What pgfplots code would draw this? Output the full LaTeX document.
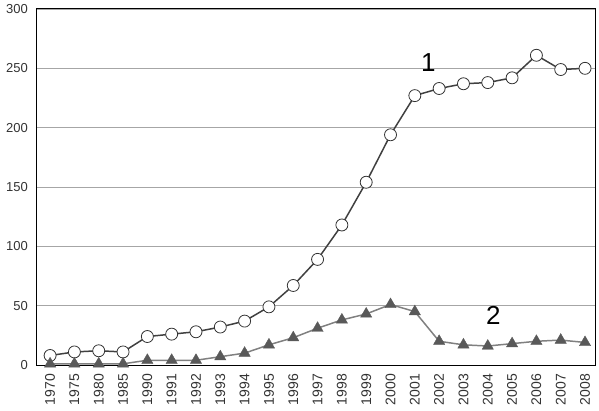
\documentclass[border=0pt]{standalone}
\usepackage{pgfplots}
\pgfplotsset{compat=1.18}
\usepackage{fontspec}
\setmainfont{Liberation Sans}
\begin{document}
\begin{tikzpicture}
\begin{axis}[
  name=main,
  scale only axis,
  width=559bp, height=356bp,
  xmin=-0.58, xmax=22.41,
  ymin=0, ymax=300,
  ytick={0,50,100,150,200,250,300},
  xtick={0,...,22},
  xticklabels={1970,1975,1980,1985,1990,1991,1992,1993,1994,1995,1996,1997,1998,1999,2000,2001,2002,2003,2004,2005,2006,2007,2008},
  xticklabel style={rotate=90, anchor=east, inner xsep=9bp, font=\fontsize{14bp}{16bp}\selectfont, text=black!80},
  yticklabel style={inner xsep=8bp, font=\fontsize{13bp}{15bp}\selectfont, text=black!80},
  /pgf/number format/assume math mode=true,
  major tick length=0pt,
  ymajorgrids,
  grid style={gray!70, line width=0.8pt},
  axis line style={black, line width=1pt},
  clip=false,
]
\addplot[black!75, line width=1.5pt, mark=*, mark size=6bp, mark options={fill=white, draw=black!80, line width=0.8pt}]
coordinates {
(0,8) (1,11) (2,12) (3,11) (4,24) (5,26) (6,28) (7,32) (8,37) (9,49) (10,67) (11,89) (12,118) (13,154) (14,194) (15,227) (16,233) (17,237) (18,238) (19,242) (20,261) (21,249) (22,250)
};
\addplot[gray, line width=1.5pt, mark=triangle*, mark size=6.5bp, mark options={fill=black!65, draw=black!65, line width=0.4pt}]
coordinates {
(0,1) (1,1) (2,1) (3,1) (4,4) (5,4) (6,4) (7,7) (8,10) (9,17) (10,23) (11,31) (12,38) (13,43) (14,51) (15,45) (16,20) (17,17) (18,16) (19,18) (20,20) (21,21) (22,19)
};
\node[font=\fontsize{26bp}{28bp}\selectfont] at (axis cs:15.56,255) {1};
\node[font=\fontsize{26bp}{28bp}\selectfont] at (axis cs:18.23,42) {2};
\end{axis}
\pgfresetboundingbox
\path (main.south west) ++(-36bp,-46bp) coordinate (bl);
\path (main.north east) ++(4bp,9bp) coordinate (tr);
\path (bl) rectangle (tr);
\end{tikzpicture}
\end{document}
